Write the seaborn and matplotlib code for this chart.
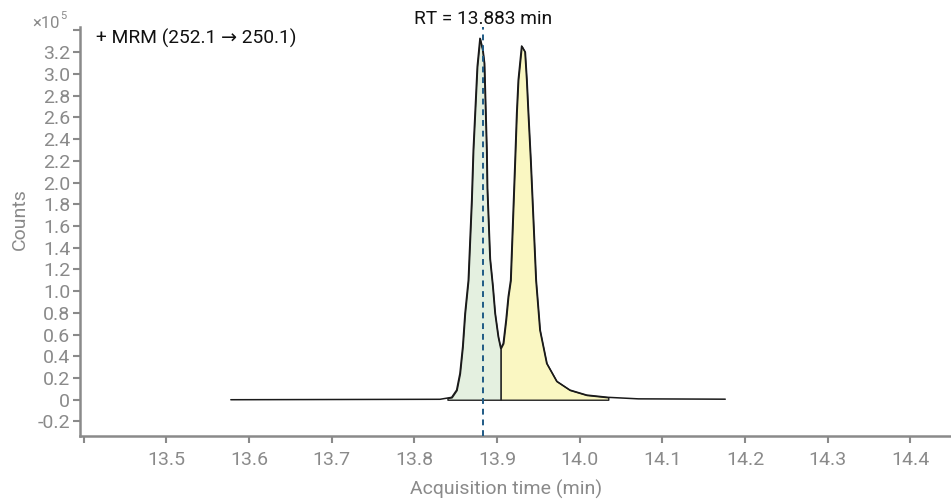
import numpy as np
import pandas as pd
import seaborn as sns
import matplotlib.pyplot as plt

# chromatogram trace, counts in units of 1e5
time_min = [13.578, 13.831, 13.8451, 13.8511, 13.8551, 13.8584, 13.8612, 13.8652, 13.8693, 13.8712,
            13.8760, 13.8793, 13.8826, 13.8845, 13.8874, 13.8881, 13.8914, 13.8947, 13.8975, 13.9014,
            13.9044, 13.9075, 13.9108, 13.9135, 13.9164, 13.9217, 13.9237, 13.9256, 13.9297, 13.9337,
            13.9358, 13.9377, 13.9406, 13.9470, 13.9518, 13.9600, 13.9721, 13.9881, 14.0083, 14.0345,
            14.0710, 14.1760]
counts_e5 = [0.000, 0.004, 0.022, 0.089, 0.243, 0.488, 0.796, 1.100, 1.840, 2.300,
             3.066, 3.328, 3.220, 3.100, 2.300, 1.950, 1.300, 1.050, 0.796, 0.580,
             0.473, 0.519, 0.734, 0.948, 1.100, 2.205, 2.640, 2.944, 3.257, 3.204,
             2.944, 2.640, 2.205, 1.100, 0.642, 0.335, 0.170, 0.089, 0.043, 0.022,
             0.008, 0.005]

# integrated peak windows
peak_starts = [13.840, 13.9044]
peak_ends = [13.9044, 14.0345]
peak_colors = ["#e4f0e0", "#faf7c2"]

retention_time = 13.883
title_text = "+ MRM (252.1 \u2192 250.1)"
rt_text = f"RT = {retention_time:.3f} min"

x_ticks = [13.4, 13.5, 13.6, 13.7, 13.8, 13.9, 14.0, 14.1, 14.2, 14.3, 14.4]
y_ticks = [-0.2, 0, 0.2, 0.4, 0.6, 0.8, 1.0, 1.2, 1.4, 1.6, 1.8, 2.0, 2.2, 2.4, 2.6, 2.8, 3.0, 3.2, 3.4]

sns.set_style("ticks")
plt.rcParams['font.family'] = ['Roboto', 'DejaVu Sans']

grey = "#8a8a8a"
df = pd.DataFrame({"time": time_min, "counts": counts_e5})

fig = plt.figure(figsize=(9.51, 5.0), dpi=100)
ax = fig.add_axes([80 / 951, 64 / 500, 1 - 80 / 951, 409 / 500])

# shaded peak areas
t = np.array(time_min)
c = np.array(counts_e5)
for start, end, color in zip(peak_starts, peak_ends, peak_colors):
    inside = (t > start) & (t < end)
    xs = np.concatenate([[start], t[inside], [end]])
    ys = np.interp(xs, t, c)
    ax.fill_between(xs, 0, ys, facecolor=color, edgecolor="#222222", linewidth=1.0, zorder=2)

sns.lineplot(data=df, x="time", y="counts", ax=ax, color="#1a1a1a", linewidth=1.1, zorder=3)

ax.axvline(retention_time, ymin=0, ymax=1.0, color="#1f5a85", linestyle=(0, (3, 2.5)),
           linewidth=1.4, zorder=4, clip_on=False)

ax.set_xlim(13.3956, 14.449)
ax.set_ylim(-0.334, 3.432)

ax.set_xticks(x_ticks)
ax.set_xticklabels([""] + [f"{v:.1f}" for v in x_ticks[1:]])
ax.set_yticks(y_ticks)
ylabels = []
for v in y_ticks[:-1]:
    ylabels.append("0" if v == 0 else f"{v:.1f}")
ax.set_yticklabels(ylabels + [""])

ax.tick_params(axis="both", colors=grey, labelcolor=grey, labelsize=14, length=5, width=1.5)
ax.tick_params(axis="x", pad=6)
ax.tick_params(axis="y", pad=2)
sns.despine(ax=ax)
for side in ["left", "bottom"]:
    ax.spines[side].set_color(grey)
    ax.spines[side].set_linewidth(1.8)

ax.set_xlabel("Acquisition time (min)", fontsize=14, color=grey)
ax.set_ylabel("Counts", fontsize=14, color=grey)
ax.xaxis.label.set_va("center")
ax.xaxis.set_label_coords(0.489, -0.13)
ax.yaxis.set_label_coords(-0.059, 0.53)

ax.text(0.018, 0.973, title_text, transform=ax.transAxes, fontsize=13.8, color="#111111", va="center")
ax.text(retention_time, 1.02, rt_text, transform=ax.get_xaxis_transform(), fontsize=13.8,
        color="#111111", ha="center", va="center")

fig.text(32 / 951, 1 - 23 / 500, "\u00d710", fontsize=12, color=grey, va="center")
fig.text(60 / 951, 1 - 16 / 500, "5", fontsize=8, color=grey, va="center")

fig.savefig("out.png", dpi=100)
